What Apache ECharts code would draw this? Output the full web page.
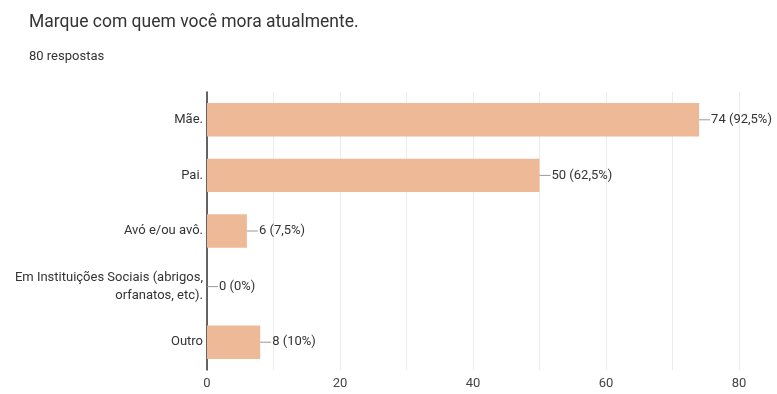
<!DOCTYPE html>
<html>
<head>
<meta charset="utf-8">
<style>
  html, body { margin: 0; padding: 0; background: #fff; }
  #chart { width: 777px; height: 394px; }
</style>
<script src="https://cdn.jsdelivr.net/npm/echarts@6/dist/echarts.min.js"></script>
</head>
<body>
<div id="chart"></div>
<script>
// Answer options, top to bottom
const categories = [
  'Mãe.',
  'Pai.',
  'Avó e/ou avô.',
  'Em Instituições Sociais (abrigos,\norfanatos, etc).',
  'Outro'
];
// Number of responses per option
const counts = [74, 50, 6, 0, 8];
// Share of the 80 responses, as printed next to each bar
const percents = ['92,5%', '62,5%', '7,5%', '0%', '10%'];
const xTicks = [0, 20, 40, 60, 80];

const chart = echarts.init(document.getElementById('chart'));
const font = 'Roboto, "Noto Sans", sans-serif';

chart.setOption({
  animation: false,
  textStyle: { fontFamily: font },
  title: [
    {
      text: 'Marque com quem você mora atualmente.',
      left: 24, top: 9,
      textStyle: { fontSize: 17.5, fontWeight: 'normal', color: '#333', fontFamily: font }
    },
    {
      text: '80 respostas',
      left: 24, top: 45,
      textStyle: { fontSize: 13, fontWeight: 'normal', color: '#333', fontFamily: font }
    }
  ],
  grid: { left: 207, right: 38, top: 92, bottom: 24, containLabel: false },
  xAxis: {
    type: 'value',
    min: 0, max: 80, interval: 10,
    axisLine: { show: false },
    axisTick: { show: false },
    splitLine: { show: true, lineStyle: { color: '#ececec', width: 1 } },
    axisLabel: {
      color: '#444', fontSize: 13, margin: 7,
      formatter: v => (xTicks.indexOf(v) >= 0 ? String(v) : '')
    }
  },
  yAxis: {
    type: 'category',
    inverse: true,
    data: categories,
    axisLine: { show: true, lineStyle: { color: '#333', width: 1.5 } },
    axisTick: { show: false },
    splitLine: { show: false },
    axisLabel: { color: '#333', fontSize: 13, margin: 4, align: 'right', lineHeight: 18 }
  },
  series: [{
    type: 'bar',
    data: counts,
    barWidth: '60%',
    itemStyle: { color: '#eeb997' },
    label: {
      show: true,
      position: 'right',
      distance: 0,
      formatter: p => '{l|}{t|' + counts[p.dataIndex] + ' (' + percents[p.dataIndex] + ')}',
      rich: {
        l: { width: 11, height: 1, backgroundColor: '#999' },
        t: { color: '#333', fontSize: 13, padding: [0, 0, 0, 1], fontFamily: font }
      }
    }
  }]
});
</script>
</body>
</html>
